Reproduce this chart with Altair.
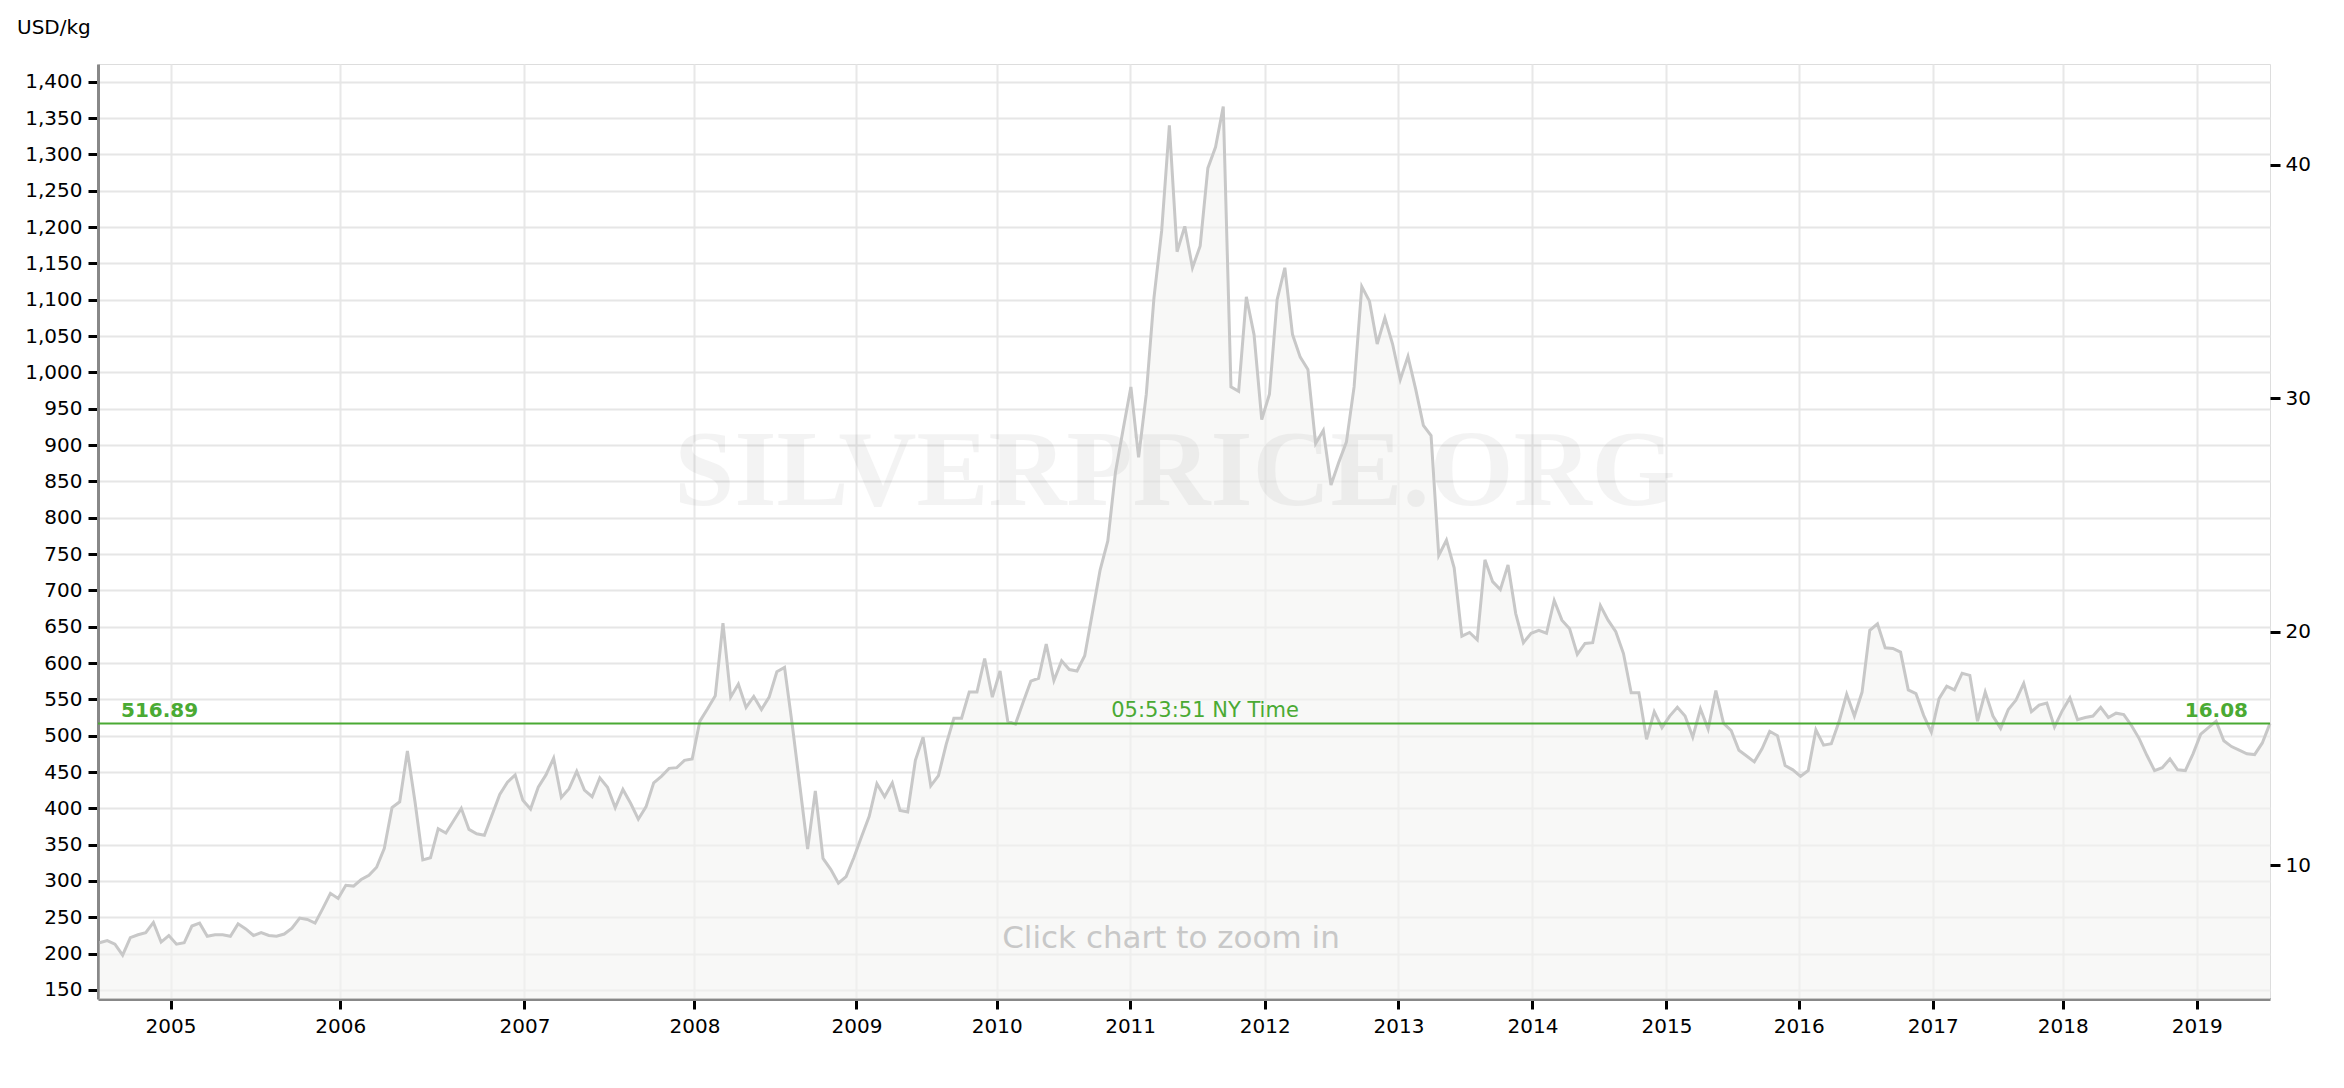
import altair as alt
import pandas as pd

# ---------------- data ----------------
PRICES_KG = [
    215, 218, 213, 198, 222, 226, 229, 243, 216, 225, 213, 215, 238, 242, 224, 226,
    226, 224, 241, 234, 225, 229, 225, 224, 227, 235, 249, 247, 242, 262, 283, 276,
    294, 293, 302, 308, 319, 345, 401, 409, 479, 408, 329, 332, 372, 366, 383, 400,
    371, 365, 363, 391, 419, 436,
    446, 411, 399, 429, 446, 469, 415, 427, 451, 425, 416, 442, 429, 401, 426, 407,
    385, 402, 435, 444, 455, 456, 466, 468, 520, 537, 555, 655, 553, 571, 539, 554,
    536, 553, 588, 594, 515, 430, 344, 424, 331, 316, 297, 306, 332, 361, 389, 434,
    416, 435, 397,
    395, 466, 498, 431, 445, 488,
    524, 524, 560, 560, 606, 553, 589, 520, 516, 546, 575, 579, 626, 576, 603, 591,
    589, 610, 669, 728, 768, 863, 922, 980, 883, 970, 1103, 1195, 1340, 1166, 1201,
    1144, 1174, 1281, 1310, 1366, 980, 974, 1104, 1052, 935, 970, 1100, 1144, 1052,
    1021, 1004,
    902, 920, 845, 876, 904, 980, 1118, 1098, 1039, 1075, 1039, 990, 1022, 977, 927,
    913, 748, 769, 731, 637, 642, 632, 742, 712, 701, 735, 668, 628, 641, 645, 641,
    686, 659, 647, 612, 627, 628, 679, 659, 643, 613, 559, 559, 495, 533, 511, 527,
    539, 527, 498, 537, 509,
    562, 517, 507, 480, 472, 464, 482, 506, 500, 459, 453, 444, 452, 508, 487, 489,
    519, 557, 527, 560, 645, 654, 621, 620, 615, 563, 558, 528, 505, 551, 568, 563,
    586, 583, 520, 560, 527, 510, 536, 549, 572, 533, 542, 545, 512, 534, 552, 522,
    525, 527, 539, 525, 531,
    529, 514, 496, 473, 452, 456, 468, 453, 452, 475, 502, 511, 520, 493, 485, 480,
    475, 474, 490, 516.89,
]
YEAR_LABELS = [2005, 2006, 2007, 2008, 2009, 2010, 2011, 2012, 2013, 2014, 2015,
               2016, 2017, 2018, 2019]
YEAR_TICK_POS = [9.22, 31.27, 55.21, 77.29, 98.34, 116.57, 133.9, 151.39, 168.76,
                 186.17, 203.58, 220.77, 238.18, 255.07, 272.48]
Y_TICKS_KG = list(range(150, 1401, 50))
Y_TICKS_OZ = [10, 20, 30, 40]
Y_DOMAIN = [137.6, 1424.4]
X_DOMAIN = [-0.2, 282]
CURRENT_KG = 516.89
OZ_PER_KG = 32.1507
CURRENT_TIME = "05:53:51 NY Time"
UNIT_TITLE = "USD/kg"
WATERMARK = "SILVERPRICE.ORG"
HINT = "Click chart to zoom in"

GREEN = "#4aaa33"
FONT = "DejaVu Sans"
W, H = 2172, 935

df = pd.DataFrame({"i": list(range(len(PRICES_KG))), "kg": PRICES_KG})
df["oz"] = df["kg"] / OZ_PER_KG

ann = pd.DataFrame({
    "kg": [CURRENT_KG],
    "kg_label": [f"{CURRENT_KG:.2f}"],
    "oz_label": [f"{CURRENT_KG / OZ_PER_KG:.2f}"],
    "time": [CURRENT_TIME],
})

xscale = alt.Scale(domain=X_DOMAIN, nice=False, zero=False)
yscale = alt.Scale(domain=Y_DOMAIN, nice=False, zero=False)
ozscale = alt.Scale(domain=[Y_DOMAIN[0] / OZ_PER_KG, Y_DOMAIN[1] / OZ_PER_KG],
                    nice=False, zero=False)

label_expr = ("[" + ",".join(f"'{y}'" for y in YEAR_LABELS) + "][indexof(["
              + ",".join(str(p) for p in YEAR_TICK_POS) + "], datum.value)]")

x_axis = alt.Axis(
    values=YEAR_TICK_POS, labelExpr=label_expr, title=None,
    grid=True, gridColor="#e8e8e8", gridWidth=2,
    domainColor="#888888", domainWidth=3,
    tickColor="#000000", tickWidth=3, tickSize=10,
    labelFont=FONT, labelFontSize=20, labelColor="#000000", labelPadding=7,
    labelFlush=False, labelOverlap=False,
)
y_axis = alt.Axis(
    values=Y_TICKS_KG, format=",.0f", title=UNIT_TITLE,
    titleAngle=0, titleAlign="left", titleBaseline="alphabetic",
    titleX=-81.5, titleY=-31, titleFont=FONT, titleFontSize=20,
    titleFontWeight="normal", titleColor="#000000",
    grid=True, gridColor="#e6e6e6", gridWidth=2,
    domainColor="#888888", domainWidth=3,
    tickColor="#000000", tickWidth=3, tickSize=10,
    labelFont=FONT, labelFontSize=20, labelColor="#000000", labelPadding=6,
    labelFlush=False, labelOverlap=False,
)
oz_axis = alt.Axis(
    orient="right", values=Y_TICKS_OZ, title=None, grid=False, domain=False,
    tickColor="#000000", tickWidth=3, tickSize=10,
    labelFont=FONT, labelFontSize=20, labelColor="#000000", labelPadding=5,
    labelFlush=False,
)

X = alt.X("i:Q", scale=xscale, axis=x_axis)
Ykg = alt.Y("kg:Q", scale=yscale, axis=y_axis)

area = alt.Chart(df).mark_area(fill="#f3f3f2", fillOpacity=0.6).encode(
    x=X, y=Ykg, y2=alt.datum(Y_DOMAIN[0])
)
watermark = alt.Chart(pd.DataFrame({"t": [WATERMARK]})).mark_text(
    font="Liberation Serif", fontWeight="bold", fontSize=108, color="#000000",
    opacity=0.045, align="center", baseline="alphabetic"
).encode(x=alt.value(1077), y=alt.value(441), text="t:N")
hint = alt.Chart(pd.DataFrame({"t": [HINT]})).mark_text(
    font=FONT, fontSize=31, color="#c8c8c8", align="center", baseline="alphabetic"
).encode(x=alt.value(1073), y=alt.value(884), text="t:N")
line = alt.Chart(df).mark_line(color="#c8c8c8", strokeWidth=3).encode(x=X, y=Ykg)
rule = alt.Chart(ann).mark_rule(color=GREEN, strokeWidth=2).encode(y=Ykg)
kg_text = alt.Chart(ann).mark_text(
    font=FONT, fontSize=20, fontWeight="bold", color=GREEN, align="left",
    baseline="alphabetic", dy=-6
).encode(x=alt.value(23), y=Ykg, text="kg_label:N")
time_text = alt.Chart(ann).mark_text(
    font=FONT, fontSize=21, color=GREEN, align="center",
    baseline="alphabetic", dy=-6
).encode(x=alt.value(1107), y=Ykg, text="time:N")
oz_text = alt.Chart(ann).mark_text(
    font=FONT, fontSize=20, fontWeight="bold", color=GREEN, align="right",
    baseline="alphabetic", dy=-6
).encode(x=alt.value(2150), y=Ykg, text="oz_label:N")

kg_layers = alt.layer(area, watermark, hint, line, rule, kg_text, time_text, oz_text)

oz_layer = alt.Chart(df).mark_line(strokeOpacity=0).encode(
    x=X, y=alt.Y("oz:Q", scale=ozscale, axis=oz_axis)
)

chart = alt.layer(kg_layers, oz_layer).resolve_scale(y="independent").properties(
    width=W, height=H,
    padding={"left": 90, "top": 56, "right": 60, "bottom": 70},
    autosize=alt.AutoSizeParams(type="none"),
).configure_view(stroke=None).configure(font=FONT)

chart.save("out.html", embed_options={"renderer": "svg", "actions": False})
